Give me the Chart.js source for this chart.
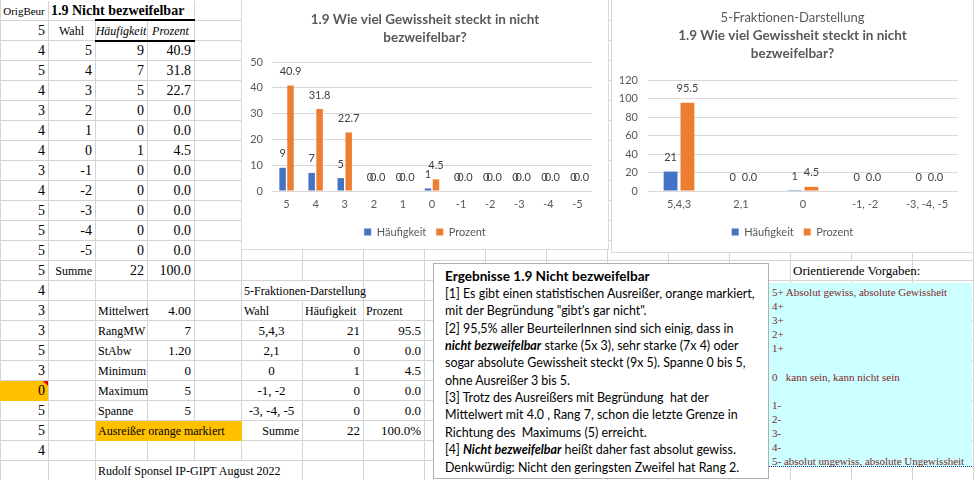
<!DOCTYPE html>
<html lang="de">
<head>
<meta charset="utf-8">
<title>1.9 Nicht bezweifelbar</title>
<script src="https://cdn.jsdelivr.net/npm/chart.js@4.4.1/dist/chart.umd.min.js"></script>
<style>
  html, body { margin:0; padding:0; background:#fff; }
  body { position:relative; width:974px; height:480px; overflow:hidden;
         font-family:"Liberation Serif","Times New Roman",serif; color:#000; }
  #sheet div { position:absolute; }
  .g { box-sizing:border-box; border-right:1px solid #d4d4d4; border-bottom:1px solid #d4d4d4; }
  .t { white-space:pre; height:20px; line-height:20px; }
  .frame { position:absolute; box-sizing:border-box; border:1px solid #d9d9d9; background:#fff; }
  canvas { position:absolute; }
  #box { position:absolute; left:433px; top:263px; width:336px; height:216px; box-sizing:border-box;
         border:1px solid #b0b0b0; background:#fff; font-family:Lato,"Open Sans",sans-serif; color:#000; }
  #box div { position:absolute; left:11px; white-space:pre; line-height:17px; height:17px; }
  #cyan { position:absolute; left:769px; top:283px; width:203px; height:184px; box-sizing:border-box;
          background:#ccffff; border-bottom:1px dotted #1f3b8f; color:#802828; font-size:11px; }
  #cyan div { position:absolute; left:3px; white-space:pre; line-height:14px; height:14px; }
</style>
</head>
<body>
<div id="sheet"></div>
<div class="frame" style="left:241px;top:-1px;width:368px;height:251px"></div>
<canvas id="c1" width="368" height="250" style="left:241px;top:0"></canvas>
<div class="frame" style="left:611px;top:-1px;width:363px;height:254px"></div>
<canvas id="c2" width="363" height="252" style="left:611px;top:0"></canvas>
<div id="box"></div>
<div id="cyan"></div>
<script>
// ---------------- data ----------------
const wahl = ["5","4","3","2","1","0","-1","-2","-3","-4","-5"];
const haeufigkeit = [9, 7, 5, 0, 0, 1, 0, 0, 0, 0, 0];
const prozent = [40.9, 31.8, 22.7, 0.0, 0.0, 4.5, 0.0, 0.0, 0.0, 0.0, 0.0];
const summe = ["22", "100.0"];
const fraktionen = ["5,4,3", "2,1", "0", "-1, -2", "-3, -4, -5"];
const fraktHaeufigkeit = [21, 0, 1, 0, 0];
const fraktProzent = [95.5, 0.0, 4.5, 0.0, 0.0];
const fraktSumme = ["22", "100.0%"];
const origBeur = [5,4,5,4,3,4,4,3,4,5,5,5,5,4,3,3,5,3,0,5,5,4];
const statLabels = ["Mittelwert","RangMW","StAbw","Minimum","Maximum","Spanne"];
const statValues = ["4.00","7","1.20","0","5","5"];
const seriesNames = ["Häufigkeit", "Prozent"];
const chart1Title = ["1.9 Wie viel Gewissheit steckt in nicht", "bezweifelbar?"];
const chart2Title = "5-Fraktionen-Darstellung";
const yAxis1 = { max: 50, step: 10 };
const yAxis2 = { max: 120, step: 20 };
const boxTitle = "Ergebnisse 1.9 Nicht bezweifelbar";
const boxLines = [
  "[1] Es gibt einen statistischen Ausreißer, orange markiert,",
  "mit der Begründung \"gibt's gar nicht\".",
  "[2] 95,5% aller BeurteilerInnen sind sich einig, dass in",
  "<b><i>nicht bezweifelbar</i></b> starke (5x 3), sehr starke (7x 4) oder",
  "sogar absolute Gewissheit steckt (9x 5). Spanne 0 bis 5,",
  "ohne Ausreißer 3 bis 5.",
  "[3] Trotz des Ausreißers mit Begründung  hat der",
  "Mittelwert mit 4.0 , Rang 7, schon die letzte Grenze in",
  "Richtung des  Maximums (5) erreicht.",
  "[4] <b><i>Nicht bezweifelbar</i></b> heißt daher fast absolut gewiss.",
  "Denkwürdig: Nicht den geringsten Zweifel hat Rang 2."
];
const vorgaben = [
  "5+ Absolut gewiss, absolute Gewissheit", "4+", "3+", "2+", "1+", "",
  "0   kann sein, kann nicht sein", "", "1-", "2-", "3-", "4-",
  "5- absolut ungewiss, absolute Ungewissheit"
];

// ---------------- sheet grid ----------------
const X = [0,48,95,147,194,241,302,363,424,485,546,607,668,729,790,851,912,973];
const RH = 20, NROWS = 24;
const noRight = new Set(['0,1','0,2','14,5','23,2','23,3','23,4','13,14']);
const sheet = document.getElementById('sheet');
function add(css, cls, html) {
  const d = document.createElement('div');
  if (cls) d.className = cls;
  Object.assign(d.style, css);
  if (html !== undefined) d.textContent = html;
  sheet.appendChild(d);
  return d;
}
for (let r = 0; r < NROWS; r++) {
  for (let c = 0; c < X.length - 1; c++) {
    const d = add({ left:(X[c]+1)+'px', top:(r*RH+1)+'px', width:(X[c+1]-X[c])+'px', height:RH+'px' }, 'g');
    if (noRight.has(r+','+c)) d.style.borderRightColor = 'transparent';
  }
}
add({ left:'0px', top:'0px', width:'1px', height:'480px', background:'#d4d4d4' });
// fills
add({ left:'0px', top:'381px', width:'48px', height:'20px', background:'#ffc000' });
add({ left:'96px', top:'421px', width:'146px', height:'20px', background:'#ffc000' });
add({ left:'43px', top:'381px', width:'0px', height:'0px', borderTop:'5px solid #e00000', borderLeft:'5px solid transparent' });
// thick lines
add({ left:'95px', top:'19px', width:'100px', height:'2px', background:'#000' });
add({ left:'95px', top:'40px', width:'100px', height:'2px', background:'#000' });

function put(r, c0, c1, text, align, css) {
  const d = add({ top:(r*RH+1)+'px' }, 't', String(text));
  if (align === 'left') d.style.left = (X[c0]+3)+'px';
  else if (align === 'right') d.style.right = (974-(X[c1]-3))+'px';
  else { d.style.left = X[c0]+'px'; d.style.width = (X[c1]-X[c0])+'px'; d.style.textAlign = 'center'; }
  Object.assign(d.style, css || {});
}
const F14 = { fontSize:'14px' }, F12 = { fontSize:'12px' }, F13 = { fontSize:'13px' };
put(0, 0, 1, 'OrigBeur', 'center', { fontSize:'11px' });
put(0, 1, 4, '1.9 Nicht bezweifelbar', 'left', { fontSize:'14px', fontWeight:'bold' });
put(1, 1, 2, 'Wahl', 'center', F12);
put(1, 2, 3, seriesNames[0], 'center', { fontSize:'12px', fontStyle:'italic' });
put(1, 3, 4, seriesNames[1], 'center', { fontSize:'12px', fontStyle:'italic' });
wahl.forEach((w, i) => {
  put(2+i, 1, 2, w, 'right', F14);
  put(2+i, 2, 3, haeufigkeit[i], 'right', F14);
  put(2+i, 3, 4, prozent[i].toFixed(1), 'right', F14);
});
put(13, 1, 2, 'Summe', 'right', F12);
put(13, 2, 3, summe[0], 'right', F14);
put(13, 3, 4, summe[1], 'right', F14);
origBeur.forEach((v, i) => put(1+i, 0, 1, v, 'right', F14));
statLabels.forEach((s, i) => {
  put(15+i, 2, 3, s, 'left', F12);
  put(15+i, 3, 4, statValues[i], 'right', F13);
});
put(21, 2, 5, 'Ausreißer orange markiert', 'left', F12);
put(23, 2, 6, 'Rudolf Sponsel IP-GIPT August 2022', 'left', F12);
put(14, 5, 7, chart2Title, 'left', F12);
put(15, 5, 6, 'Wahl', 'left', F12);
put(15, 6, 7, seriesNames[0], 'left', F12);
put(15, 7, 8, seriesNames[1], 'left', F12);
fraktionen.forEach((f, i) => {
  put(16+i, 5, 6, f, 'center', F13);
  put(16+i, 6, 7, fraktHaeufigkeit[i], 'right', F13);
  put(16+i, 7, 8, fraktProzent[i].toFixed(1), 'right', F13);
});
put(21, 5, 6, 'Summe', 'right', F12);
put(21, 6, 7, fraktSumme[0], 'right', F13);
put(21, 7, 8, fraktSumme[1], 'right', F13);
put(13, 14, 16, 'Orientierende Vorgaben:', 'left', F13);

// ---------------- text box ----------------
const box = document.getElementById('box');
const tDiv = document.createElement('div');
tDiv.textContent = boxTitle;
tDiv.style.fontWeight = 'bold'; tDiv.style.fontSize = '14px';
tDiv.style.top = (276 - 264 - 8.5) + 'px';
box.appendChild(tDiv);
const lineDivs = boxLines.map((html, i) => {
  const d = document.createElement('div');
  d.innerHTML = html;
  d.style.fontSize = '13px';
  d.style.top = (293.4 + i*17.36 - 264 - 8.5) + 'px';
  box.appendChild(d);
  return d;
});
const tw = tDiv.offsetWidth; tDiv.style.fontSize = (14*205/tw).toFixed(2)+'px';
const lw = lineDivs[0].offsetWidth; const bs = (13*310/lw).toFixed(2)+'px';
lineDivs.forEach(d => d.style.fontSize = bs);

const cyan = document.getElementById('cyan');
vorgaben.forEach((s, i) => {
  const d = document.createElement('div');
  d.textContent = s;
  d.style.top = (292 + i*14.1 - 283 - 7) + 'px';
  cyan.appendChild(d);
});

// ---------------- charts ----------------
const FONT = 'Lato';
const GRAY = '#595959';
const valueLabels = {
  id: 'valueLabels',
  afterDatasetsDraw(chart) {
    const ctx = chart.ctx;
    ctx.save();
    ctx.font = '11px ' + FONT;
    ctx.fillStyle = '#404040';
    ctx.textAlign = 'center';
    ctx.textBaseline = 'middle';
    chart.data.datasets.forEach((ds, i) => {
      chart.getDatasetMeta(i).data.forEach((el, j) => {
        const v = ds.data[j];
        ctx.fillText(i === 0 ? String(v) : v.toFixed(1), el.x, el.y - 14);
      });
    });
    ctx.restore();
  }
};
// let the y tick labels use the space left of the (narrowed) axis box
const unclipY = { id: 'unclipY', afterLayout(chart) { chart.scales.y.left = 0; } };
function buildChart(id, labels, hData, pData, cfg) {
  return new Chart(document.getElementById(id), {
    type: 'bar',
    data: { labels: labels, datasets: [
      { label: seriesNames[0], data: hData, backgroundColor: '#4472C4', categoryPercentage: 0.544, barPercentage: 0.82 },
      { label: seriesNames[1], data: pData, backgroundColor: '#ED7D31', categoryPercentage: 0.544, barPercentage: 0.82 }
    ]},
    options: {
      responsive: false, animation: false, events: [],
      layout: { padding: { left: cfg.side, right: cfg.side, top: 0, bottom: cfg.padBottom } },
      plugins: {
        title: cfg.title,
        subtitle: cfg.subtitle || { display: false },
        legend: { position: 'bottom', labels: { boxWidth: 7, boxHeight: 7, padding: 10, color: GRAY, font: { family: FONT, size: 11 } } },
        tooltip: { enabled: false }
      },
      scales: {
        x: { grid: { display: false, drawTicks: false }, border: { display: false },
             ticks: { color: GRAY, font: { family: FONT, size: 11 }, padding: 7, maxRotation: 0, autoSkip: false },
             afterFit: s => { s.height = cfg.xH; } },
        y: { min: 0, max: cfg.yMax, grid: { color: '#d9d9d9', drawTicks: false }, border: { display: false },
             ticks: { stepSize: cfg.yStep, color: GRAY, font: { family: FONT, size: 11 }, padding: cfg.yPad },
             afterFit: s => { s.width = cfg.yW; } }
      }
    },
    plugins: [valueLabels, unclipY]
  });
}
buildChart('c1', wahl, haeufigkeit, prozent, {
  side: 17, yW: 14, yPad: 9, padBottom: 2.5, xH: 25.5, yMax: yAxis1.max, yStep: yAxis1.step,
  title: { display: true, text: chart1Title, color: GRAY,
           font: { family: FONT, size: 13.5, weight: 'bold', lineHeight: '18px' }, padding: { top: 11, bottom: 15 } }
});
buildChart('c2', fraktionen, fraktHaeufigkeit, fraktProzent, {
  side: 16, yW: 21, yPad: 10, padBottom: 4.5, xH: 25.5, yMax: yAxis2.max, yStep: yAxis2.step,
  title: { display: true, text: chart2Title, color: GRAY,
           font: { family: FONT, size: 13, weight: 'normal', lineHeight: '18px' }, padding: { top: 9, bottom: 0 } },
  subtitle: { display: true, text: chart1Title, color: GRAY,
              font: { family: FONT, size: 13.5, weight: 'bold', lineHeight: '18px' }, padding: { top: 0, bottom: 17 } }
});
</script>
</body>
</html>
